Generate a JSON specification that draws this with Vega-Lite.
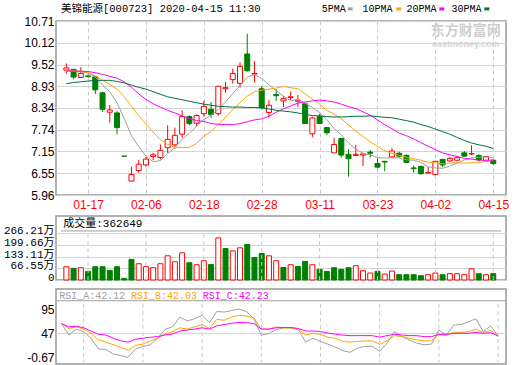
{
  "$schema": "https://vega.github.io/schema/vega-lite/v6.json",
  "background": "white",
  "padding": {"left": 2, "top": 3, "right": 0, "bottom": 0},
  "config": {
    "view": {"stroke": "#999999", "strokeWidth": 1.5},
    "axis": {"ticks": false, "domain": false, "labelFont": "Liberation Sans", "labelFontSize": 12, "labelColor": "#000000", "gridColor": "#d3d3d3", "labelOverlap": false, "labelFlush": false, "tickCount": 100}
  },
  "datasets": {
    "k": [
      {"i":0,"d":"2020-01-14","o":9.37,"h":9.55,"l":9.27,"c":9.43,"pc":9.35,"v":75.8,"m5":9.35,"m10":9.35,"m20":9.35,"m30":9.0,"ra":66.6,"rb":66.6,"rc":66.6},
      {"i":1,"d":"2020-01-15","o":9.39,"h":9.4,"l":9.12,"c":9.18,"pc":9.43,"v":66.4,"m5":9.34,"m10":9.35,"m20":9.34,"m30":9.03,"ra":44.3,"rb":57,"rc":60.2},
      {"i":2,"d":"2020-01-16","o":9.17,"h":9.45,"l":9.16,"c":9.28,"pc":9.18,"v":70.2,"m5":9.32,"m10":9.34,"m20":9.34,"m30":9.05,"ra":55.8,"rb":60.2,"rc":61.5},
      {"i":3,"d":"2020-01-17","o":9.21,"h":9.25,"l":9.16,"c":9.2,"pc":9.28,"v":49.3,"m5":9.29,"m10":9.3,"m20":9.33,"m30":9.07,"ra":50.7,"rb":55.8,"rc":58.3},
      {"i":4,"d":"2020-01-20","o":9.19,"h":9.21,"l":8.72,"c":8.83,"pc":9.2,"v":75.8,"m5":9.18,"m10":9.21,"m20":9.3,"m30":9.09,"ra":37.9,"rb":47.5,"rc":51.9},
      {"i":5,"d":"2020-01-21","o":8.75,"h":8.78,"l":8.23,"c":8.3,"pc":8.83,"v":75.8,"m5":8.96,"m10":9.09,"m20":9.25,"m30":9.09,"ra":16.9,"rb":34.7,"rc":45.6},
      {"i":6,"d":"2020-01-22","o":8.22,"h":8.42,"l":7.93,"c":8.28,"pc":8.3,"v":55,"m5":8.78,"m10":8.98,"m20":9.2,"m30":9.09,"ra":16,"rb":30.3,"rc":44.3},
      {"i":7,"d":"2020-01-23","o":8.2,"h":8.25,"l":7.62,"c":7.8,"pc":8.28,"v":75.8,"m5":8.48,"m10":8.85,"m20":9.15,"m30":9.06,"ra":7.3,"rb":25.2,"rc":37.9},
      {"i":8,"d":"2020-02-03","o":7.02,"h":7.02,"l":7.02,"c":7.02,"pc":7.8,"v":9.5,"m5":8.05,"m10":8.64,"m20":9.05,"m30":9.02,"ra":4.1,"rb":20.1,"rc":32.8},
      {"i":9,"d":"2020-02-04","o":6.34,"h":6.73,"l":6.34,"c":6.52,"pc":7.02,"v":117.6,"m5":7.58,"m10":8.38,"m20":8.9,"m30":8.96,"ra":0.5,"rb":14.3,"rc":30.3},
      {"i":10,"d":"2020-02-05","o":6.63,"h":6.92,"l":6.57,"c":6.8,"pc":6.52,"v":92.9,"m5":7.28,"m10":8.12,"m20":8.72,"m30":8.9,"ra":16.9,"rb":23.9,"rc":36},
      {"i":11,"d":"2020-02-06","o":6.78,"h":7.0,"l":6.73,"c":6.94,"pc":6.8,"v":75.8,"m5":7.02,"m10":7.9,"m20":8.57,"m30":8.85,"ra":22,"rb":26.4,"rc":37.9},
      {"i":12,"d":"2020-02-07","o":7.01,"h":7.11,"l":6.91,"c":7.06,"pc":6.94,"v":70.2,"m5":6.87,"m10":7.68,"m20":8.45,"m30":8.78,"ra":25.2,"rb":32.8,"rc":39.8},
      {"i":13,"d":"2020-02-10","o":6.98,"h":7.34,"l":6.93,"c":7.18,"pc":7.06,"v":92.9,"m5":6.9,"m10":7.47,"m20":8.36,"m30":8.71,"ra":37.9,"rb":37.9,"rc":41.1},
      {"i":14,"d":"2020-02-11","o":7.25,"h":7.86,"l":7.11,"c":7.48,"pc":7.18,"v":138.4,"m5":7.09,"m10":7.34,"m20":8.27,"m30":8.64,"ra":55.1,"rb":46.2,"rc":44.3},
      {"i":15,"d":"2020-02-12","o":7.33,"h":7.8,"l":7.22,"c":7.59,"pc":7.48,"v":104.3,"m5":7.25,"m10":7.27,"m20":8.2,"m30":8.6,"ra":60.2,"rb":50.7,"rc":46.2},
      {"i":16,"d":"2020-02-13","o":7.62,"h":8.27,"l":7.52,"c":8.1,"pc":7.59,"v":155.5,"m5":7.48,"m10":7.25,"m20":8.12,"m30":8.56,"ra":79.4,"rb":58.3,"rc":51.9},
      {"i":17,"d":"2020-02-14","o":8.1,"h":8.13,"l":7.86,"c":7.91,"pc":8.1,"v":98.6,"m5":7.65,"m10":7.26,"m20":8.05,"m30":8.52,"ra":71.7,"rb":55.8,"rc":53.9},
      {"i":18,"d":"2020-02-17","o":7.92,"h":8.16,"l":7.84,"c":8.13,"pc":7.91,"v":87.2,"m5":7.84,"m10":7.37,"m20":7.99,"m30":8.48,"ra":76.2,"rb":60.2,"rc":55.8},
      {"i":19,"d":"2020-02-18","o":8.18,"h":8.53,"l":8.1,"c":8.38,"pc":8.13,"v":110,"m5":8.02,"m10":7.56,"m20":7.97,"m30":8.44,"ra":82.6,"rb":64.7,"rc":58.3},
      {"i":20,"d":"2020-02-19","o":8.3,"h":8.5,"l":8.07,"c":8.16,"pc":8.38,"v":89.1,"m5":8.14,"m10":7.69,"m20":7.91,"m30":8.41,"ra":68.5,"rb":57,"rc":55.8},
      {"i":21,"d":"2020-02-20","o":8.18,"h":8.93,"l":8.12,"c":8.93,"pc":8.16,"v":240.8,"m5":8.3,"m10":7.89,"m20":7.89,"m30":8.38,"ra":90.2,"rb":74.9,"rc":62.2},
      {"i":22,"d":"2020-02-21","o":8.86,"h":9.05,"l":8.75,"c":8.89,"pc":8.93,"v":180.1,"m5":8.5,"m10":8.08,"m20":7.88,"m30":8.37,"ra":89,"rb":73,"rc":64.7},
      {"i":23,"d":"2020-02-24","o":9.11,"h":9.41,"l":9.0,"c":9.28,"pc":8.89,"v":166.8,"m5":8.73,"m10":8.29,"m20":7.88,"m30":8.36,"ra":92,"rb":79.4,"rc":67.3},
      {"i":24,"d":"2020-02-25","o":9.01,"h":9.58,"l":8.89,"c":9.47,"pc":9.28,"v":183.9,"m5":8.95,"m10":8.48,"m20":7.91,"m30":8.36,"ra":95,"rb":82.6,"rc":68.5},
      {"i":25,"d":"2020-02-26","o":9.81,"h":10.36,"l":9.33,"c":9.35,"pc":9.47,"v":202.9,"m5":9.18,"m10":8.66,"m20":7.96,"m30":8.35,"ra":90,"rb":81.3,"rc":68.5},
      {"i":26,"d":"2020-02-27","o":9.26,"h":9.62,"l":9.03,"c":9.28,"pc":9.35,"v":128.9,"m5":9.25,"m10":8.78,"m20":8.01,"m30":8.35,"ra":76.2,"rb":77.5,"rc":66.6},
      {"i":27,"d":"2020-02-28","o":8.86,"h":8.93,"l":8.3,"c":8.34,"pc":9.28,"v":151.7,"m5":9.14,"m10":8.82,"m20":8.04,"m30":8.34,"ra":44,"rb":55.8,"rc":55.8},
      {"i":28,"d":"2020-03-02","o":8.21,"h":8.55,"l":8.07,"c":8.41,"pc":8.34,"v":138.4,"m5":8.97,"m10":8.85,"m20":8.11,"m30":8.31,"ra":47,"rb":55.8,"rc":55.8},
      {"i":29,"d":"2020-03-03","o":8.7,"h":8.85,"l":8.53,"c":8.67,"pc":8.41,"v":110,"m5":8.81,"m10":8.88,"m20":8.22,"m30":8.27,"ra":55,"rb":60,"rc":58.3},
      {"i":30,"d":"2020-03-04","o":8.53,"h":8.66,"l":8.36,"c":8.59,"pc":8.67,"v":72,"m5":8.66,"m10":8.92,"m20":8.31,"m30":8.25,"ra":58,"rb":58.3,"rc":59},
      {"i":31,"d":"2020-03-05","o":8.62,"h":8.78,"l":8.55,"c":8.64,"pc":8.59,"v":87.2,"m5":8.53,"m10":8.89,"m20":8.39,"m30":8.23,"ra":58,"rb":58,"rc":59},
      {"i":32,"d":"2020-03-06","o":8.52,"h":8.69,"l":8.36,"c":8.55,"pc":8.64,"v":77.7,"m5":8.57,"m10":8.86,"m20":8.47,"m30":8.2,"ra":55,"rb":56,"rc":57},
      {"i":33,"d":"2020-03-09","o":8.45,"h":8.48,"l":7.91,"c":7.91,"pc":8.55,"v":106.2,"m5":8.47,"m10":8.72,"m20":8.5,"m30":8.16,"ra":30.3,"rb":44,"rc":52},
      {"i":34,"d":"2020-03-10","o":7.63,"h":8.1,"l":7.54,"c":8.06,"pc":7.91,"v":87.2,"m5":8.35,"m10":8.58,"m20":8.53,"m30":8.13,"ra":37.9,"rb":47.5,"rc":52},
      {"i":35,"d":"2020-03-11","o":8.1,"h":8.18,"l":7.91,"c":7.91,"pc":8.06,"v":60.7,"m5":8.21,"m10":8.44,"m20":8.55,"m30":8.12,"ra":31.5,"rb":45.6,"rc":51},
      {"i":36,"d":"2020-03-12","o":7.8,"h":7.82,"l":7.6,"c":7.66,"pc":7.91,"v":49.3,"m5":8.02,"m10":8.27,"m20":8.53,"m30":8.1,"ra":26.4,"rb":39.8,"rc":48},
      {"i":37,"d":"2020-03-13","o":7.11,"h":7.52,"l":7.11,"c":7.34,"pc":7.66,"v":70.2,"m5":7.78,"m10":8.17,"m20":8.5,"m30":8.09,"ra":20.7,"rb":37.9,"rc":46},
      {"i":38,"d":"2020-03-16","o":7.5,"h":7.52,"l":6.98,"c":7.05,"pc":7.34,"v":60.7,"m5":7.6,"m10":8.04,"m20":8.44,"m30":8.09,"ra":13.7,"rb":31.5,"rc":44},
      {"i":39,"d":"2020-03-17","o":7.07,"h":7.21,"l":6.46,"c":6.95,"pc":7.05,"v":70.2,"m5":7.38,"m10":7.87,"m20":8.37,"m30":8.1,"ra":10.5,"rb":30.3,"rc":43},
      {"i":40,"d":"2020-03-18","o":7.04,"h":7.32,"l":7.02,"c":7.07,"pc":6.95,"v":81.5,"m5":7.21,"m10":7.71,"m20":8.32,"m30":8.11,"ra":18.8,"rb":31.5,"rc":43},
      {"i":41,"d":"2020-03-19","o":7.05,"h":7.11,"l":6.75,"c":7.08,"pc":7.07,"v":53.1,"m5":7.1,"m10":7.56,"m20":8.23,"m30":8.11,"ra":22,"rb":32.8,"rc":43},
      {"i":42,"d":"2020-03-20","o":7.13,"h":7.19,"l":6.98,"c":7.1,"pc":7.08,"v":39.8,"m5":7.05,"m10":7.41,"m20":8.14,"m30":8.12,"ra":22,"rb":32.8,"rc":43},
      {"i":43,"d":"2020-03-23","o":6.82,"h":6.96,"l":6.69,"c":6.72,"pc":7.1,"v":49.3,"m5":6.98,"m10":7.29,"m20":8.01,"m30":8.1,"ra":12.4,"rb":26.4,"rc":40},
      {"i":44,"d":"2020-03-24","o":6.88,"h":6.89,"l":6.61,"c":6.86,"pc":6.72,"v":34.1,"m5":6.97,"m10":7.17,"m20":7.88,"m30":8.08,"ra":28.3,"rb":32.8,"rc":43},
      {"i":45,"d":"2020-03-25","o":7.0,"h":7.24,"l":6.96,"c":7.16,"pc":6.86,"v":51.2,"m5":6.98,"m10":7.1,"m20":7.77,"m30":8.07,"ra":50.7,"rb":43,"rc":45.6},
      {"i":46,"d":"2020-03-26","o":7.1,"h":7.14,"l":6.98,"c":7.02,"pc":7.16,"v":30.3,"m5":6.97,"m10":7.04,"m20":7.65,"m30":8.03,"ra":41.1,"rb":41.1,"rc":44.3},
      {"i":47,"d":"2020-03-27","o":7.04,"h":7.07,"l":6.84,"c":6.85,"pc":7.02,"v":30.3,"m5":6.92,"m10":6.99,"m20":7.58,"m30":7.99,"ra":34.7,"rb":37.9,"rc":43},
      {"i":48,"d":"2020-03-30","o":6.7,"h":6.77,"l":6.57,"c":6.68,"pc":6.85,"v":30.3,"m5":6.91,"m10":6.95,"m20":7.49,"m30":7.95,"ra":28.3,"rb":34.7,"rc":43},
      {"i":49,"d":"2020-03-31","o":6.74,"h":6.77,"l":6.52,"c":6.54,"pc":6.68,"v":24.6,"m5":6.85,"m10":6.91,"m20":7.39,"m30":7.88,"ra":25.2,"rb":32.8,"rc":41.1},
      {"i":50,"d":"2020-04-01","o":6.56,"h":6.72,"l":6.55,"c":6.57,"pc":6.54,"v":30.3,"m5":6.73,"m10":6.86,"m20":7.29,"m30":7.83,"ra":26.4,"rb":32.8,"rc":41.1},
      {"i":51,"d":"2020-04-02","o":6.52,"h":6.89,"l":6.5,"c":6.88,"pc":6.57,"v":39.8,"m5":6.7,"m10":6.84,"m20":7.2,"m30":7.76,"ra":53.9,"rb":45.6,"rc":45.6},
      {"i":52,"d":"2020-04-03","o":6.93,"h":6.95,"l":6.72,"c":6.78,"pc":6.88,"v":30.3,"m5":6.69,"m10":6.81,"m20":7.11,"m30":7.69,"ra":44.3,"rb":43,"rc":45.6},
      {"i":53,"d":"2020-04-07","o":6.89,"h":7.0,"l":6.87,"c":6.96,"pc":6.78,"v":36,"m5":6.75,"m10":6.83,"m20":7.06,"m30":7.62,"ra":63.4,"rb":49.4,"rc":47.5},
      {"i":54,"d":"2020-04-08","o":6.91,"h":7.03,"l":6.88,"c":6.98,"pc":6.96,"v":36,"m5":6.83,"m10":6.84,"m20":7.01,"m30":7.53,"ra":64.7,"rb":49.4,"rc":47.5},
      {"i":55,"d":"2020-04-09","o":7.11,"h":7.16,"l":7.0,"c":7.02,"pc":6.98,"v":30.3,"m5":6.92,"m10":6.83,"m20":6.96,"m30":7.45,"ra":69.8,"rb":50.7,"rc":47.5},
      {"i":56,"d":"2020-04-10","o":7.08,"h":7.32,"l":7.05,"c":7.09,"pc":7.02,"v":64.5,"m5":6.97,"m10":6.84,"m20":6.94,"m30":7.38,"ra":76.2,"rb":55.8,"rc":49.4},
      {"i":57,"d":"2020-04-13","o":7.04,"h":7.07,"l":6.87,"c":6.92,"pc":7.09,"v":36,"m5":6.99,"m10":6.84,"m20":6.91,"m30":7.33,"ra":50.7,"rb":49.4,"rc":47.5},
      {"i":58,"d":"2020-04-14","o":6.89,"h":7.03,"l":6.87,"c":7.01,"pc":6.92,"v":30.3,"m5":7.0,"m10":6.88,"m20":6.91,"m30":7.29,"ra":62.2,"rb":53.2,"rc":48.8},
      {"i":59,"d":"2020-04-15","o":6.91,"h":6.93,"l":6.78,"c":6.82,"pc":7.01,"v":36.26,"m5":6.97,"m10":6.9,"m20":6.91,"m30":7.23,"ra":42.12,"rb":42.03,"rc":42.23}
    ]
  },
  "data": {"name": "k"},
  "bounds": "flush",
  "spacing": 21,
  "vconcat": [
    {
      "width": 450,
      "height": 174,
      "layer": [
        {
          "mark": {"type": "rule", "strokeWidth": 1},
          "encoding": {
            "x": {"field": "i", "type": "quantitative", "title": null, "scale": {"domain": [-0.74, 60.07], "nice": false, "zero": false},
              "axis": {"title": null, "values": [3, 11, 19, 27, 35, 43, 51, 59], "tickCount": 100,
                "labelExpr": "datum.value==3?'01-17':datum.value==11?'02-06':datum.value==19?'02-18':datum.value==27?'02-28':datum.value==35?'03-11':datum.value==43?'03-23':datum.value==51?'04-02':'04-15'",
                "labelColor": "#ff0000", "labelPadding": 4, "labelOverlap": false, "labelFlush": false, "grid": true, "gridDash": [4, 3], "gridColor": "#c8c8c8"}},
            "y": {"field": "l", "type": "quantitative", "title": null, "scale": {"domain": [5.96, 10.71], "nice": false, "zero": false},
              "axis": {"title": null, "values": [5.96, 6.55, 7.15, 7.74, 8.34, 8.93, 9.52, 10.12, 10.71], "tickCount": 100, "format": ".2f", "labelPadding": 2, "labelOverlap": false, "grid": true}},
            "y2": {"field": "h"},
            "color": {"condition": {"test": "datum.c > datum.o", "value": "#ff0000"}, "value": "#008000"}
          }
        },
        {"data": {"values": [{"t": "东方财富网"}]}, "mark": {"type": "text", "align": "center", "baseline": "middle", "font": "Noto Sans CJK SC", "fontWeight": "bold", "fontSize": 14, "color": "#cfcfcf"},
          "encoding": {"text": {"field": "t"}, "x": {"datum": 55.2, "type": "quantitative"}, "y": {"datum": 10.43, "type": "quantitative"}}},
        {"data": {"values": [{"t": "eastmoney.com"}]}, "mark": {"type": "text", "align": "center", "baseline": "middle", "font": "Liberation Sans", "fontWeight": "bold", "fontSize": 9, "color": "#d5d5d5"},
          "encoding": {"text": {"field": "t"}, "x": {"datum": 55.2, "type": "quantitative"}, "y": {"datum": 10.075, "type": "quantitative"}}},
        {
          "mark": {"type": "bar", "size": 5, "strokeWidth": 1},
          "encoding": {
            "x": {"field": "i", "type": "quantitative", "title": null},
            "y": {"field": "o", "type": "quantitative", "title": null},
            "y2": {"field": "c"},
            "fill": {"condition": {"test": "datum.c > datum.o", "value": "#ffffff"}, "value": "#008000"},
            "stroke": {"condition": {"test": "datum.c > datum.o", "value": "#ff0000"}, "value": "#008000"}
          }
        },
        {"mark": {"type": "line", "color": "#a0a0a0", "strokeWidth": 1}, "encoding": {"x": {"field": "i", "type": "quantitative", "title": null}, "y": {"field": "m5", "type": "quantitative", "title": null}}},
        {"mark": {"type": "line", "color": "#ffa500", "strokeWidth": 1}, "encoding": {"x": {"field": "i", "type": "quantitative", "title": null}, "y": {"field": "m10", "type": "quantitative", "title": null}}},
        {"mark": {"type": "line", "color": "#ff00ff", "strokeWidth": 1}, "encoding": {"x": {"field": "i", "type": "quantitative", "title": null}, "y": {"field": "m20", "type": "quantitative", "title": null}}},
        {"mark": {"type": "line", "color": "#00703c", "strokeWidth": 1}, "encoding": {"x": {"field": "i", "type": "quantitative", "title": null}, "y": {"field": "m30", "type": "quantitative", "title": null}}},
        {"data": {"values": [{"t": "美锦能源[000723] 2020-04-15 11:30"}]}, "mark": {"type": "text", "align": "left", "baseline": "middle", "font": "Liberation Mono, Noto Sans CJK SC", "fontSize": 10.5, "color": "#000000"},
          "encoding": {"text": {"field": "t"}, "x": {"datum": -0.74, "type": "quantitative"}, "y": {"datum": 11.04, "type": "quantitative"}}},
        {"data": {"values": [{"t": "5PMA"}]}, "mark": {"type": "text", "align": "left", "baseline": "middle", "font": "Liberation Mono", "fontSize": 10, "color": "#000000"},
          "encoding": {"text": {"field": "t"}, "x": {"datum": 35.3, "type": "quantitative"}, "y": {"datum": 11.04, "type": "quantitative"}}},
        {"data": {"values": [{"t": "10PMA"}]}, "mark": {"type": "text", "align": "left", "baseline": "middle", "font": "Liberation Mono", "fontSize": 10, "color": "#000000"},
          "encoding": {"text": {"field": "t"}, "x": {"datum": 40.92, "type": "quantitative"}, "y": {"datum": 11.04, "type": "quantitative"}}},
        {"data": {"values": [{"t": "20PMA"}]}, "mark": {"type": "text", "align": "left", "baseline": "middle", "font": "Liberation Mono", "fontSize": 10, "color": "#000000"},
          "encoding": {"text": {"field": "t"}, "x": {"datum": 47.0, "type": "quantitative"}, "y": {"datum": 11.04, "type": "quantitative"}}},
        {"data": {"values": [{"t": "30PMA"}]}, "mark": {"type": "text", "align": "left", "baseline": "middle", "font": "Liberation Mono", "fontSize": 10, "color": "#000000"},
          "encoding": {"text": {"field": "t"}, "x": {"datum": 53.22, "type": "quantitative"}, "y": {"datum": 11.04, "type": "quantitative"}}},
        {"data": {"values": [{"t": "5PMA"}]}, "mark": {"type": "point", "shape": "M-1,-0.6H1V0.6H-1Z", "size": 25, "filled": true, "opacity": 1, "color": "#a0a0a0"},
          "encoding": {"x": {"datum": 39.23, "type": "quantitative"}, "y": {"datum": 11.04, "type": "quantitative"}}},
        {"data": {"values": [{"t": "10PMA"}]}, "mark": {"type": "point", "shape": "M-1,-0.6H1V0.6H-1Z", "size": 25, "filled": true, "opacity": 1, "color": "#ffa500"},
          "encoding": {"x": {"datum": 45.95, "type": "quantitative"}, "y": {"datum": 11.04, "type": "quantitative"}}},
        {"data": {"values": [{"t": "20PMA"}]}, "mark": {"type": "point", "shape": "M-1,-0.6H1V0.6H-1Z", "size": 25, "filled": true, "opacity": 1, "color": "#ff00ff"},
          "encoding": {"x": {"datum": 51.89, "type": "quantitative"}, "y": {"datum": 11.04, "type": "quantitative"}}},
        {"data": {"values": [{"t": "30PMA"}]}, "mark": {"type": "point", "shape": "M-1,-0.6H1V0.6H-1Z", "size": 25, "filled": true, "opacity": 1, "color": "#00703c"},
          "encoding": {"x": {"datum": 58.11, "type": "quantitative"}, "y": {"datum": 11.04, "type": "quantitative"}}}
      ]
    },
    {
      "bounds": "flush",
      "spacing": 9,
      "vconcat": [
        {
          "width": 450,
          "height": 64,
          "layer": [
            {
              "mark": {"type": "bar", "size": 5, "strokeWidth": 1},
              "encoding": {
                "x": {"field": "i", "type": "quantitative", "title": null, "scale": {"domain": [-0.74, 60.07], "nice": false, "zero": false}, "axis": null},
                "y": {"field": "v", "type": "quantitative", "title": null, "stack": null, "scale": {"domain": [0, 366], "nice": false, "zero": true},
                  "axis": {"title": null, "values": [0, 66.55, 133.11, 199.66, 266.21], "tickCount": 100, "labelExpr": "datum.value == 0 ? '0' : format(datum.value, '.2f') + '万'",
                    "labelFont": "Liberation Mono, Noto Sans CJK SC", "labelFontSize": 11, "labelPadding": 2, "labelOffset": -2.5, "labelOverlap": false, "grid": true}},
                "fill": {"condition": {"test": "datum.c > datum.pc", "value": "#ffffff"}, "value": "#008000"},
                "stroke": {"condition": {"test": "datum.c > datum.pc", "value": "#ff0000"}, "value": "#008000"}
              }
            },
            {
              "transform": [{"filter": {"field": "i", "oneOf": [3, 11, 19, 27, 35, 43, 51, 59]}}],
              "mark": {"type": "rule", "color": "#c8c8c8", "strokeDash": [4, 3], "strokeWidth": 1},
              "encoding": {"x": {"field": "i", "type": "quantitative", "title": null, "axis": null}, "y": {"datum": 0, "type": "quantitative"}, "y2": {"datum": 280.4}}
            },
            {
              "data": {"values": [{"k": "sep"}]},
              "mark": {"type": "rule", "color": "#a0a0a0", "strokeWidth": 1},
              "encoding": {"x": {"datum": -0.74, "type": "quantitative", "axis": null}, "x2": {"datum": 60.07}, "y": {"datum": 280.4, "type": "quantitative"}}
            },
            {
              "data": {"values": [{"t": "成交量:362649"}]},
              "mark": {"type": "text", "align": "left", "baseline": "middle", "font": "Liberation Mono, Noto Sans CJK SC", "fontSize": 11, "color": "#000000"},
              "encoding": {"text": {"field": "t"}, "x": {"datum": -0.43, "type": "quantitative", "axis": null}, "y": {"datum": 323, "type": "quantitative"}}
            }
          ]
        },
        {
          "width": 450,
          "height": 75,
          "layer": [
            {
              "transform": [{"filter": {"field": "i", "oneOf": [3, 11, 19, 27, 35, 43, 51, 59]}}],
              "mark": {"type": "rule", "color": "#c8c8c8", "strokeDash": [4, 3], "strokeWidth": 1},
              "encoding": {
                "x": {"field": "i", "type": "quantitative", "title": null, "scale": {"domain": [-0.74, 60.07], "nice": false, "zero": false}, "axis": null},
                "y": {"datum": -12.4, "type": "quantitative", "title": null, "scale": {"domain": [-12.4, 134.1], "nice": false, "zero": false},
                  "axis": {"title": null, "values": [-0.67, 47, 95], "tickCount": 100, "labelExpr": "datum.value < 0 ? '-0.67' : '' + datum.value", "labelPadding": 2, "labelOverlap": false, "grid": false}},
                "y2": {"datum": 111.2}
              }
            },
            {
              "data": {"values": [{"k": "mid"}]},
              "mark": {"type": "rule", "color": "#d3d3d3", "strokeWidth": 1},
              "encoding": {"x": {"datum": -0.74, "type": "quantitative", "axis": null}, "x2": {"datum": 60.07}, "y": {"datum": 47, "type": "quantitative"}}
            },
            {
              "data": {"values": [{"k": "sep"}]},
              "mark": {"type": "rule", "color": "#a0a0a0", "strokeWidth": 1},
              "encoding": {"x": {"datum": -0.74, "type": "quantitative", "axis": null}, "x2": {"datum": 60.07}, "y": {"datum": 111.2, "type": "quantitative"}}
            },
            {"mark": {"type": "line", "color": "#a0a0a0", "strokeWidth": 1}, "encoding": {"x": {"field": "i", "type": "quantitative", "title": null, "axis": null}, "y": {"field": "ra", "type": "quantitative", "title": null}}},
            {"mark": {"type": "line", "color": "#ffa500", "strokeWidth": 1}, "encoding": {"x": {"field": "i", "type": "quantitative", "title": null, "axis": null}, "y": {"field": "rb", "type": "quantitative", "title": null}}},
            {"mark": {"type": "line", "color": "#ff00ff", "strokeWidth": 1}, "encoding": {"x": {"field": "i", "type": "quantitative", "title": null, "axis": null}, "y": {"field": "rc", "type": "quantitative", "title": null}}},
            {
              "data": {"values": [{"t": "RSI_A:42.12"}]},
              "mark": {"type": "text", "align": "left", "baseline": "middle", "font": "Liberation Mono", "fontSize": 10, "color": "#a0a0a0"},
              "encoding": {"text": {"field": "t"}, "x": {"datum": -0.3, "type": "quantitative", "axis": null}, "y": {"datum": 121, "type": "quantitative"}}
            },
            {
              "data": {"values": [{"t": "RSI_B:42.03"}]},
              "mark": {"type": "text", "align": "left", "baseline": "middle", "font": "Liberation Mono", "fontSize": 10, "color": "#ffa500"},
              "encoding": {"text": {"field": "t"}, "x": {"datum": 9.39, "type": "quantitative", "axis": null}, "y": {"datum": 121, "type": "quantitative"}}
            },
            {
              "data": {"values": [{"t": "RSI_C:42.23"}]},
              "mark": {"type": "text", "align": "left", "baseline": "middle", "font": "Liberation Mono", "fontSize": 10, "color": "#ff00ff"},
              "encoding": {"text": {"field": "t"}, "x": {"datum": 19.08, "type": "quantitative", "axis": null}, "y": {"datum": 121, "type": "quantitative"}}
            }
          ]
        }
      ]
    }
  ]
}
